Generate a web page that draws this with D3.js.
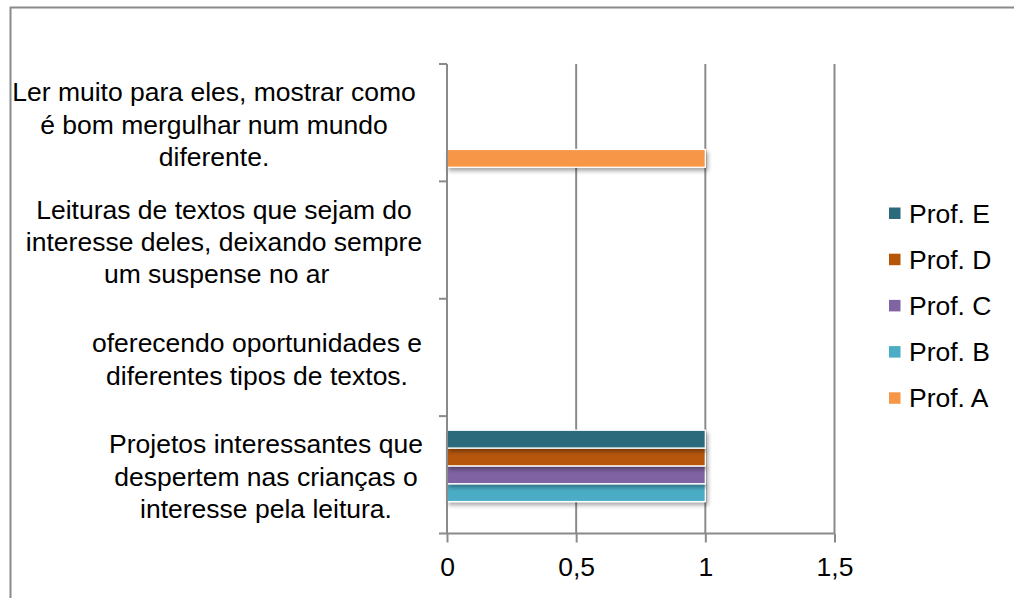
<!DOCTYPE html>
<html>
<head>
<meta charset="utf-8">
<script src="https://cdn.jsdelivr.net/npm/d3@7"></script>
<style>
  html, body { margin: 0; padding: 0; background: #fff; }
  svg { display: block; font-family: "Liberation Sans", Arial, sans-serif; }
</style>
</head>
<body>
<svg id="chart" width="1014" height="598"></svg>
<script>
// Categories, bottom to top, each already split into its wrapped lines
const categories = [
  "Projetos interessantes que despertem nas crianças o interesse pela leitura.",
  "oferecendo oportunidades e diferentes tipos de textos.",
  "Leituras de textos que sejam do interesse deles, deixando sempre um suspense no ar",
  "Ler muito para eles, mostrar como é bom mergulhar num mundo diferente."
];
const categoryLines = [
  ["Projetos interessantes que", "despertem nas crianças o", "interesse pela leitura."],
  ["oferecendo oportunidades e", "diferentes tipos de textos."],
  ["Leituras de textos que sejam do", "interesse deles, deixando sempre", "um suspense no ar  "],
  ["Ler muito para eles, mostrar como", "é bom mergulhar num mundo", "diferente."]
];

// Series (null = no answer for that category)
const seriesNames = ["Prof. A", "Prof. B", "Prof. C", "Prof. D", "Prof. E"];
const profA = [null, null, null, 1];
const profB = [1, null, null, null];
const profC = [1, null, null, null];
const profD = [1, null, null, null];
const profE = [1, null, null, null];
const seriesValues = [profA, profB, profC, profD, profE];
const seriesColors = ["#f79646", "#4bacc6", "#8064a2", "#b65708", "#2a6a7b"];

const xTicks = [0, 0.5, 1, 1.5];
const xTickLabels = ["0", "0,5", "1", "1,5"];

// ---- layout ----
const svg = d3.select("#chart");
const plot = { left: 447, right: 834.5, top: 64, bottom: 533.5 };
const fontSize = 26.5;
const gridColor = "#8a8a8a";

// outer chart frame (runs off the right and bottom of the view)
svg.append("rect")
  .attr("x", 10.5).attr("y", 7.5)
  .attr("width", 1100).attr("height", 700)
  .attr("fill", "#fff")
  .attr("stroke", gridColor).attr("stroke-width", 2);

const defs = svg.append("defs");
const shadow = defs.append("filter").attr("id", "barShadow")
  .attr("x", "-5%").attr("y", "-30%").attr("width", "115%").attr("height", "180%");
shadow.append("feDropShadow")
  .attr("dx", 2).attr("dy", 3).attr("stdDeviation", 2)
  .attr("flood-color", "#000").attr("flood-opacity", 0.35);

const x = d3.scaleLinear().domain([0, 1.5]).range([plot.left, plot.right]);
const y = d3.scaleBand().domain(d3.range(categories.length))
  .range([plot.bottom, plot.top]).padding(0);
const ySeries = d3.scaleBand().domain(d3.range(seriesNames.length))
  .range([y.bandwidth(), 0]).paddingInner(0).paddingOuter(0.79);

// vertical gridlines
svg.append("g").selectAll("line")
  .data(xTicks.filter(t => t > 0))
  .join("line")
  .attr("x1", d => x(d)).attr("x2", d => x(d))
  .attr("y1", plot.top).attr("y2", plot.bottom)
  .attr("stroke", gridColor).attr("stroke-width", 2);

// bars
const barData = [];
seriesValues.forEach((vals, s) => {
  vals.forEach((v, c) => {
    if (v != null) barData.push({ s, c, v });
  });
});
svg.append("g").selectAll("rect")
  .data(barData)
  .join("rect")
  .attr("x", x(0))
  .attr("y", d => y(d.c) + ySeries(d.s))
  .attr("width", d => x(d.v) - x(0))
  .attr("height", ySeries.bandwidth())
  .attr("fill", d => seriesColors[d.s])
  .attr("stroke", "#fff").attr("stroke-width", 1.3)
  .attr("filter", "url(#barShadow)");

// x axis
const xAxis = svg.append("g")
  .attr("transform", `translate(0,${plot.bottom})`)
  .call(d3.axisBottom(x).tickValues(xTicks)
    .tickFormat((d, i) => xTickLabels[i]).tickSize(9).tickSizeOuter(0));
xAxis.select(".domain").remove();
xAxis.append("line")
  .attr("x1", plot.left - 8).attr("x2", plot.right)
  .attr("stroke", gridColor).attr("stroke-width", 2);
xAxis.selectAll(".tick line").attr("stroke", gridColor).attr("stroke-width", 2);
xAxis.selectAll(".tick text")
  .attr("y", 42).attr("dy", 0)
  .attr("fill", "#000")
  .style("font-size", fontSize + "px")
  .style("font-family", "Liberation Sans, Arial, sans-serif");

// y axis: line plus ticks at category boundaries
const yAxis = svg.append("g");
yAxis.append("line")
  .attr("x1", plot.left).attr("x2", plot.left)
  .attr("y1", plot.top).attr("y2", plot.bottom)
  .attr("stroke", gridColor).attr("stroke-width", 2);
yAxis.selectAll("line.tick")
  .data(d3.range(categories.length))
  .join("line").attr("class", "tick")
  .attr("x1", plot.left - 8).attr("x2", plot.left)
  .attr("y1", d => y(d)).attr("y2", d => y(d))
  .attr("stroke", gridColor).attr("stroke-width", 2);

// category labels: each block centred on its own lines
const labelCx = [266, 257, 224, 214];
const lineGap = 32.4;
const labels = svg.append("g").attr("fill", "#000").style("font-size", fontSize + "px");
categoryLines.forEach((lines, c) => {
  const cy = y(c) + y.bandwidth() / 2 + 11;
  const first = cy - (lines.length - 1) * lineGap / 2;
  labels.append("text")
    .attr("text-anchor", "middle")
    .attr("xml:space", "preserve")
    .selectAll("tspan")
    .data(lines)
    .join("tspan")
    .attr("x", labelCx[c])
    .attr("y", (d, i) => first + i * lineGap)
    .text(d => d);
});

// legend, Prof. E on top
const legend = svg.append("g").style("font-size", fontSize + "px");
const legendOrder = d3.range(seriesNames.length).reverse();
const legendItems = legend.selectAll("g")
  .data(legendOrder)
  .join("g")
  .attr("transform", (d, i) => `translate(889,${213 + i * 46.2})`);
legendItems.append("rect")
  .attr("x", 0).attr("y", -5.5)
  .attr("width", 11.5).attr("height", 11.5)
  .attr("fill", d => seriesColors[d]);
legendItems.append("text")
  .attr("x", 20).attr("y", 9.5)
  .attr("fill", "#000")
  .text(d => seriesNames[d]);
</script>
</body>
</html>
